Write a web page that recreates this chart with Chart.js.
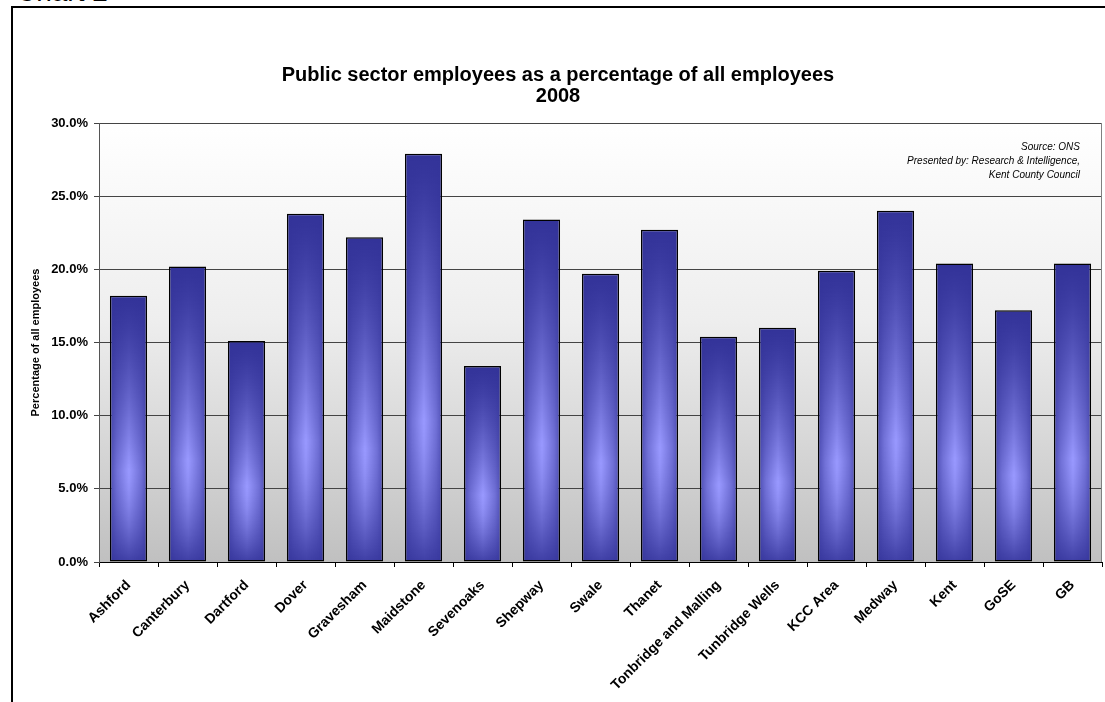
<!DOCTYPE html>
<html>
<head>
<meta charset="utf-8">
<script src="https://cdn.jsdelivr.net/npm/chart.js"></script>
<style>
  html, body { margin: 0; padding: 0; width: 1105px; height: 702px; overflow: hidden; background: #fff; font-family: "Liberation Sans", Arial, sans-serif; }
  #caption { position: absolute; left: 16px; top: -24px; font-size: 28px; line-height: 32px; color: #000; }
  #frame { position: absolute; left: 11px; top: 6px; width: 1200px; height: 800px; border: 2px solid #000; }
  #wrap { position: absolute; left: 14px; top: 9px; width: 1091px; height: 693px; }
  #source { position: absolute; right: 25px; top: 140px; font-size: 10px; font-style: italic; line-height: 14px; text-align: right; color: #000; }
</style>
</head>
<body>
<div id="caption">Chart 2</div>
<div id="frame"></div>
<div id="wrap"><canvas id="chart"></canvas></div>
<div id="source">Source: ONS<br>Presented by: Research &amp; Intelligence,<br>Kent County Council</div>
<script>
const categories = ["Ashford", "Canterbury", "Dartford", "Dover", "Gravesham", "Maidstone", "Sevenoaks",
    "Shepway", "Swale", "Thanet", "Tonbridge and Malling", "Tunbridge Wells", "KCC Area", "Medway",
    "Kent", "GoSE", "GB"];
const publicSectorPct = [18.2, 20.2, 15.1, 23.8, 22.2, 27.9, 13.4, 23.4, 19.7, 22.7, 15.4, 16.0, 19.9, 24.0, 20.4, 17.2, 20.4];
const yMax = 30;
const yStep = 5;

const DARK = [51, 51, 153];
const LIGHT = [153, 153, 255];
const CAT_PCT = 0.63;

function mix(t) {
    t = Math.max(0, Math.min(1, t));
    const c = DARK.map((d, i) => Math.round(d + (LIGHT[i] - d) * t));
    return `rgb(${c[0]},${c[1]},${c[2]})`;
}

// builds the shaded bar fill: dark top/bottom, light stripe lower middle
const patternCache = {};
function barFill(ctx, left, top, w, h) {
    const key = [left, top, w, h].map(v => Math.round(v)).join("_");
    if (patternCache[key]) return patternCache[key];
    const c = document.createElement("canvas");
    c.width = Math.max(1, Math.ceil(w));
    c.height = Math.max(1, Math.ceil(h));
    const g = c.getContext("2d");
    for (let y = 0; y < c.height; y++) {
        const f = y / c.height;
        const tv = f < 0.65 ? Math.pow(f / 0.65, 1.3) : 1 - Math.pow((f - 0.65) / 0.35, 1.5) * 0.9;
        const lg = g.createLinearGradient(0, 0, c.width, 0);
        lg.addColorStop(0, mix(tv * 0.25));
        lg.addColorStop(0.18, mix(tv * 0.6));
        lg.addColorStop(0.5, mix(tv));
        lg.addColorStop(0.82, mix(tv * 0.6));
        lg.addColorStop(1, mix(tv * 0.25));
        g.fillStyle = lg;
        g.fillRect(0, y, c.width, 1);
    }
    const p = ctx.createPattern(c, "no-repeat");
    p.setTransform(new DOMMatrix([1, 0, 0, 1, left, top]));
    patternCache[key] = p;
    return p;
}

const plotBackground = {
    id: "plotBackground",
    beforeDraw(chart) {
        const { ctx, chartArea: a } = chart;
        const gr = ctx.createLinearGradient(0, a.top, 0, a.bottom);
        gr.addColorStop(0, "#ffffff");
        gr.addColorStop(0.45, "#eeeeee");
        gr.addColorStop(1, "#c0c0c0");
        ctx.save();
        ctx.fillStyle = gr;
        ctx.fillRect(a.left, a.top, a.right - a.left, a.bottom - a.top);
        ctx.restore();
    },
    afterDraw(chart) {
        const { ctx, chartArea: a } = chart;
        ctx.save();
        ctx.strokeStyle = "#808080";
        ctx.lineWidth = 1;
        ctx.beginPath();
        ctx.moveTo(Math.round(a.right) - 0.5, a.top);
        ctx.lineTo(Math.round(a.right) - 0.5, a.bottom);
        ctx.stroke();
        ctx.restore();
    }
};

new Chart(document.getElementById("chart"), {
    type: "bar",
    data: {
        labels: categories,
        datasets: [{
            data: publicSectorPct,
            borderColor: "#000",
            borderWidth: 1.5,
            borderSkipped: false,
            categoryPercentage: CAT_PCT,
            barPercentage: 1,
            backgroundColor: (c) => {
                const chart = c.chart;
                if (!chart.chartArea || c.dataIndex === undefined) return mix(0);
                const xs = chart.scales.x, ys = chart.scales.y;
                const w = xs.width / categories.length * CAT_PCT;
                const cx = xs.getPixelForValue(c.dataIndex);
                const top = ys.getPixelForValue(publicSectorPct[c.dataIndex]);
                const base = ys.getPixelForValue(0);
                return barFill(chart.ctx, cx - w / 2, top, w, base - top);
            }
        }]
    },
    options: {
        responsive: true,
        maintainAspectRatio: false,
        animation: false,
        layout: { padding: { left: 0, right: 3, top: 0, bottom: 0 } },
        plugins: {
            legend: { display: false },
            tooltip: { enabled: false },
            title: {
                display: true,
                text: ["Public sector employees as a percentage of all employees", "2008"],
                color: "#000",
                font: { family: "Liberation Sans, Arial", size: 20, weight: "bold", lineHeight: 1.05 },
                padding: { top: 56, bottom: 16 }
            }
        },
        scales: {
            x: {
                grid: { drawOnChartArea: false, drawTicks: true, tickLength: 5, color: "#000" },
                border: { color: "#000", width: 1 },
                ticks: {
                    autoSkip: false, minRotation: 45, maxRotation: 45, padding: 10, color: "#000",
                    font: { family: "Liberation Sans, Arial", size: 14, weight: "bold" }
                },
                afterFit: (s) => { s.height = 140; }
            },
            y: {
                min: 0,
                max: yMax,
                grid: { color: "#444", tickLength: 5, lineWidth: 1 },
                border: { color: "#555", width: 1 },
                ticks: {
                    stepSize: yStep, padding: 6, color: "#000",
                    font: { family: "Liberation Sans, Arial", size: 13, weight: "bold" },
                    callback: (v) => v.toFixed(1) + "%"
                },
                title: {
                    display: true,
                    text: "Percentage of all employees",
                    color: "#000",
                    padding: { top: 15, bottom: 0 },
                    font: { family: "Liberation Sans, Arial", size: 11, weight: "bold" }
                },
                afterFit: (s) => { s.width = 85; }
            }
        }
    },
    plugins: [plotBackground]
});
</script>
</body>
</html>
